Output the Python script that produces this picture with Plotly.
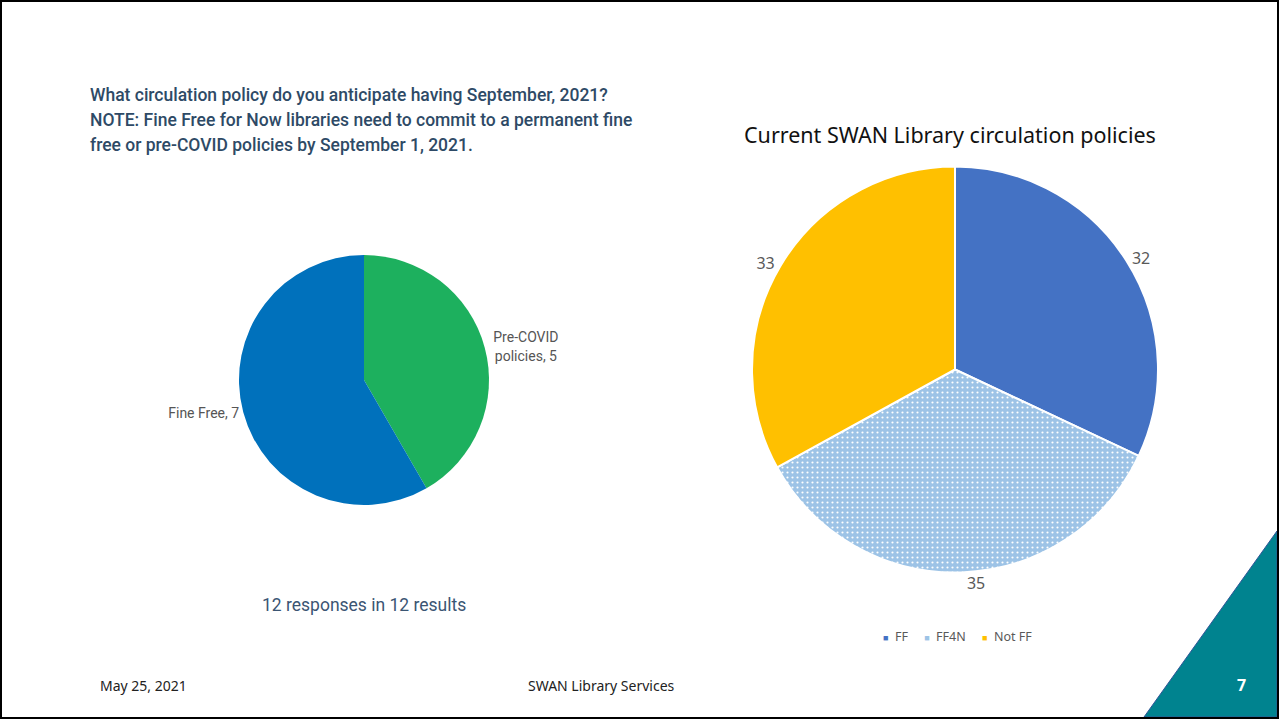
import plotly.graph_objects as go

W, H = 1279, 719

# Left survey pie
survey_labels = ["Pre-COVID<br>policies", "Fine Free"]
survey_values = [5, 7]
survey_colors = ["#1DB05E", "#0071BC"]

# Right current policies pie
policy_labels = ["FF", "FF4N", "Not FF"]
policy_values = [32, 35, 33]
policy_colors = ["#4472C4", "#9DC3E6", "#FFC000"]

def px(x0, x1):
    return [x0 / W, x1 / W]

def py(top, bottom):
    return [1 - bottom / H, 1 - top / H]

fig = go.Figure()

fig.add_trace(go.Pie(
    labels=survey_labels, values=survey_values, sort=False, direction="clockwise",
    marker=dict(colors=survey_colors, line=dict(color="white", width=0)),
    textposition="outside", texttemplate="%{label}, %{value}",
    textfont=dict(family="Roboto", size=14, color="#555555"),
    domain=dict(x=px(239, 489), y=py(255, 505)),
    showlegend=False, hoverinfo="label+value",
))

fig.add_trace(go.Pie(
    labels=policy_labels, values=policy_values, sort=False, direction="clockwise",
    marker=dict(colors=policy_colors, line=dict(color="white", width=2),
                pattern=dict(shape=["", ".", ""], fgcolor="white", bgcolor=policy_colors,
                             fillmode="replace", size=5, solidity=0.15)),
    textposition="outside", texttemplate="%{value}",
    textfont=dict(family="Noto Sans", size=16, color="#595959"),
    domain=dict(x=px(752, 1158), y=py(166, 573)),
    showlegend=False, hoverinfo="label+value",
))

# legend built from the policy labels/colours
legend_text = "&nbsp;&nbsp;&nbsp;&nbsp;&nbsp;".join(
    f"<span style='color:{c};font-size:9px'>■</span>&nbsp;&nbsp;{lab}"
    for lab, c in zip(policy_labels, policy_colors)
)

qfont = dict(family="Roboto", size=17.5, color="#2E4A66", weight=500)
annotations = [
    dict(x=88 / W, y=1 - 95 / H, xanchor="left", yanchor="middle", showarrow=False,
         text="What circulation policy do you anticipate having September, 2021?", font=qfont),
    dict(x=88 / W, y=1 - 120 / H, xanchor="left", yanchor="middle", showarrow=False,
         text="NOTE: Fine Free for Now libraries need to commit to a permanent fine", font=qfont),
    dict(x=88 / W, y=1 - 145 / H, xanchor="left", yanchor="middle", showarrow=False,
         text="free or pre-COVID policies by September 1, 2021.", font=qfont),
    dict(x=364 / W, y=1 - 605 / H, xanchor="center", yanchor="middle", showarrow=False,
         text="12 responses in 12 results",
         font=dict(family="Roboto", size=17.5, color="#3B5573")),
    dict(x=950 / W, y=1 - 134 / H, xanchor="center", yanchor="middle", showarrow=False,
         text="Current SWAN Library circulation policies",
         font=dict(family="Noto Sans", size=21.5, color="#111111")),
    dict(x=957 / W, y=1 - 636 / H, xanchor="center", yanchor="middle", showarrow=False,
         text=legend_text,
         font=dict(family="Noto Sans", size=12.5, color="#595959")),
    dict(x=98 / W, y=1 - 685 / H, xanchor="left", yanchor="middle", showarrow=False,
         text="May 25, 2021",
         font=dict(family="Noto Sans", size=14, color="#222222")),
    dict(x=601 / W, y=1 - 685 / H, xanchor="center", yanchor="middle", showarrow=False,
         text="SWAN Library Services",
         font=dict(family="Noto Sans", size=14, color="#222222")),
    dict(x=1241 / W, y=1 - 685 / H, xanchor="center", yanchor="middle", showarrow=False,
         text="<b>7</b>",
         font=dict(family="Noto Sans", size=16, color="white")),
]

shapes = [
    dict(type="path", xref="paper", yref="paper",
         path=f"M {1144/W} {1-717/H} L {1277/W} {1-531/H} L {1277/W} {1-717/H} Z",
         fillcolor="#00838F", line=dict(color="#2F5597", width=1), layer="below"),
    dict(type="rect", xref="paper", yref="paper", x0=1 / W, y0=1 / H, x1=1 - 1 / W, y1=1 - 1 / H,
         line=dict(color="black", width=2), fillcolor="rgba(0,0,0,0)"),
]

fig.update_layout(
    width=W, height=H, margin=dict(l=0, r=0, t=0, b=0),
    paper_bgcolor="white", plot_bgcolor="white",
    annotations=annotations, shapes=shapes, showlegend=False,
)

fig.write_html("out.html")
